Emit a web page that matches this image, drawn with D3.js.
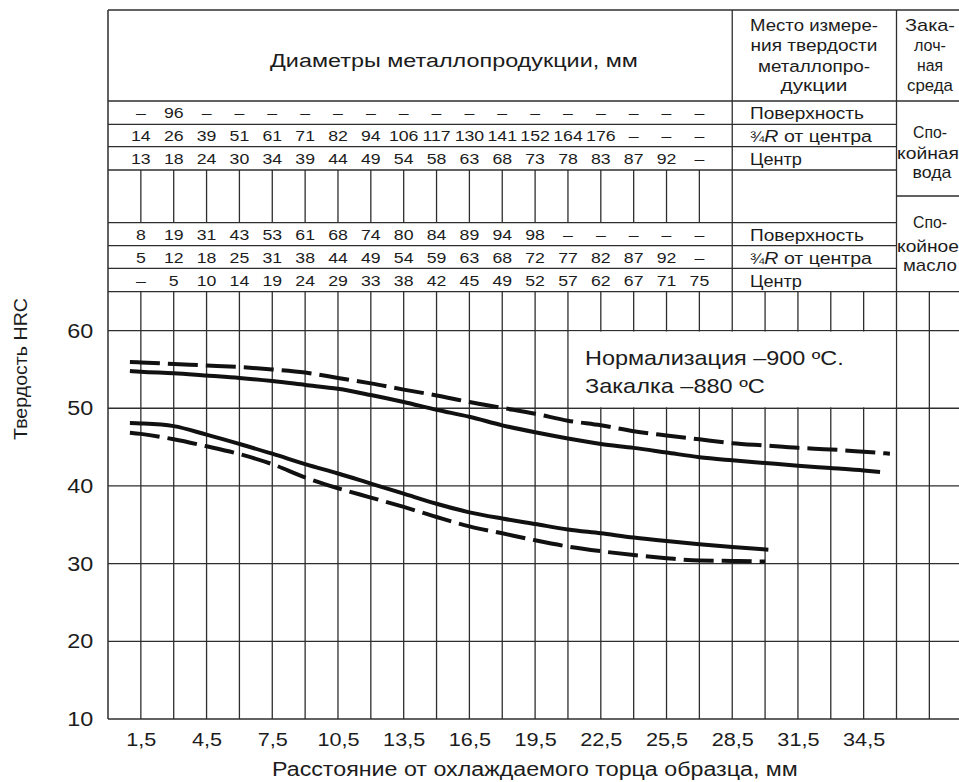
<!DOCTYPE html>
<html><head><meta charset="utf-8">
<script src="https://cdn.jsdelivr.net/npm/d3@7"></script>
<style>
body{margin:0;background:#fff}
text{font-family:"Liberation Sans",Arial,Helvetica,sans-serif;fill:#1c1c1c}
</style>
</head><body>
<svg id="c" width="959" height="782"></svg>
<script>
// ---------------- DATA ----------------
const columnDistances = [1.5,3,4.5,6,7.5,9,10.5,12,13.5,15,16.5,18,19.5,21,22.5,24,25.5,27];
const waterSurface = ["–","96","–","–","–","–","–","–","–","–","–","–","–","–","–","–","–","–"];
const waterThreeQuarter = ["14","26","39","51","61","71","82","94","106","117","130","141","152","164","176","–","–","–"];
const waterCenter = ["13","18","24","30","34","39","44","49","54","58","63","68","73","78","83","87","92","–"];
const oilSurface = ["8","19","31","43","53","61","68","74","80","84","89","94","98","–","–","–","–","–"];
const oilThreeQuarter = ["5","12","18","25","31","38","44","49","54","59","63","68","72","77","82","87","92","–"];
const oilCenter = ["–","5","10","14","19","24","29","33","38","42","45","49","52","57","62","67","71","75"];

const xTickValues = [1.5,4.5,7.5,10.5,13.5,16.5,19.5,22.5,25.5,28.5,31.5,34.5];
const xTickLabels = ["1,5","4,5","7,5","10,5","13,5","16,5","19,5","22,5","25,5","28,5","31,5","34,5"];
const yTickValues = [10,20,30,40,50,60];

// curves: [distance mm, HRC]
const upperDashed = [[1,55.95],[1.5,55.9],[3,55.7],[4.5,55.5],[6,55.3],[7.5,55.0],[9,54.6],[10.5,53.9],[12,53.2],[13.5,52.4],[15,51.65],[16.5,50.8],[18,50.05],[19.5,49.3],[21,48.4],[22.5,47.8],[24,47.05],[25.5,46.5],[27,46.0],[28.5,45.5],[30,45.2],[31.5,44.9],[33,44.7],[34.5,44.4],[35.7,44.15]];
const upperSolid = [[1,54.8],[1.5,54.7],[3,54.5],[4.5,54.2],[6,53.9],[7.5,53.5],[9,53.0],[10.5,52.5],[12,51.7],[13.5,50.8],[15,49.8],[16.5,48.9],[18,47.8],[19.5,46.9],[21,46.1],[22.5,45.4],[24,44.9],[25.5,44.3],[27,43.7],[28.5,43.3],[30,42.95],[31.5,42.6],[33,42.3],[34.5,42.0],[35.25,41.8]];
const lowerSolid = [[1,48.1],[1.5,48.05],[3,47.7],[4.5,46.6],[6,45.4],[7.5,44.15],[9,42.8],[10.5,41.6],[12,40.3],[13.5,39.0],[15,37.7],[16.5,36.6],[18,35.8],[19.5,35.1],[21,34.4],[22.5,33.9],[24,33.35],[25.5,32.9],[27,32.5],[28.5,32.15],[30.15,31.8]];
const lowerDashed = [[1,46.85],[1.5,46.7],[3,46.0],[4.5,45.1],[6,44.1],[7.5,42.8],[9,41.1],[10.5,39.7],[12,38.5],[13.5,37.3],[15,36.0],[16.5,34.8],[18,33.9],[19.5,33.0],[21,32.2],[22.5,31.6],[24,31.1],[25.5,30.7],[27,30.4],[28.5,30.35],[30,30.27]];

// ---------------- LAYOUT ----------------
const W = 959, H = 782;
const svg = d3.select("#c");
const x = d3.scaleLinear().domain([0,36]).range([108,896.5]);
const y = d3.scaleLinear().domain([10,65]).range([719,291.7]);
const L = x(0), R = W, T = 10, B = y(10);
const rows = [10,101,124.3,146.7,170,222.7,245.7,268.3,y(65)];
const gridColor = "#2e2e2e", gw = 1.3;

function hline(y0,x0,x1,w){svg.append("line").attr("x1",x0).attr("x2",x1).attr("y1",y0).attr("y2",y0).attr("stroke",gridColor).attr("stroke-width",w||gw);}
function vline(x0,y0,y1,w){svg.append("line").attr("x1",x0).attr("x2",x0).attr("y1",y0).attr("y2",y1).attr("stroke",gridColor).attr("stroke-width",w||gw);}

function label(o){
  const grp = svg.append("g");
  const t = grp.append("text").attr("text-anchor", o.anchor||"middle").style("font-size", o.size+"px");
  if (o.parts) o.parts.forEach(p => { const s=t.append("tspan").text(p.t); if(p.i) s.style("font-style","italic"); if(p.s) s.style("font-size",p.s+"px"); });
  else t.text(o.text);
  let sx = o.sx || 1.13;
  if (o.width) sx = o.width / t.node().getComputedTextLength();
  grp.attr("transform", `translate(${o.x},${o.y})${o.rot?` rotate(${o.rot})`:""} scale(${sx},1)`);
  return grp;
}

// ---------------- PLOT GRID ----------------
const vGrid = d3.range(1.5, 38.9, 1.5);
svg.append("g").selectAll("line").data(vGrid).join("line")
  .attr("x1",d=>x(d)).attr("x2",d=>x(d)).attr("y1",y(65)).attr("y2",y(10))
  .attr("stroke",gridColor).attr("stroke-width",gw);
svg.append("g").selectAll("line").data([20,30,40,50,60]).join("line")
  .attr("x1",L).attr("x2",R).attr("y1",d=>y(d)).attr("y2",d=>y(d))
  .attr("stroke",gridColor).attr("stroke-width",gw);

// white box for annotation
svg.append("rect").attr("x",x(21)+1).attr("y",y(60)+1)
  .attr("width",x(36)-x(21)-2).attr("height",y(50)-y(60)-2).attr("fill","#fff");

// ---------------- TABLE ----------------
hline(T, L, R);
hline(rows[1], L, R);
[rows[2],rows[3],rows[4],rows[5],rows[6],rows[7]].forEach(r=>hline(r, L, x(36)));
hline(rows[8], L, R);
hline(196, x(36), R);
vline(x(28.5), T, rows[8]);
vline(x(36), T, rows[8]);
svg.append("g").selectAll("line").data(columnDistances).join("line")
  .attr("x1",d=>x(d)).attr("x2",d=>x(d)).attr("y1",rows[4]).attr("y2",rows[5])
  .attr("stroke",gridColor).attr("stroke-width",gw);

// axes lines
vline(L, T, B, 1.5);
hline(B, L, R, 1.6);

// table numbers
const tableRows = [
  [waterSurface, rows[1], rows[2]],
  [waterThreeQuarter, rows[2], rows[3]],
  [waterCenter, rows[3], rows[4]],
  [oilSurface, rows[5], rows[6]],
  [oilThreeQuarter, rows[6], rows[7]],
  [oilCenter, rows[7], rows[8]]
];
tableRows.forEach(([vals, r0, r1]) => {
  const yy = (r0+r1)/2 + 5.8;
  vals.forEach((v,i) => label({x:x(columnDistances[i]), y:yy, text:v, size:15, sx:1.18}));
});

// header texts
label({x:270, y:67, text:"Диаметры металлопродукции, мм", size:19, anchor:"start", width:368});
[["Место измере-",31,128],["ния твердости",51,127],["металлопро-",72,112],["дукции",91,67]]
  .forEach(([t,b,w])=>label({x:814, y:b, text:t, size:17, width:w}));
[["Зака-",31,50],["лоч-",51,32],["ная",71,26],["среда",91,46]]
  .forEach(([t,b,w])=>label({x:930, y:b, text:t, size:17, width:w}));

// measurement place labels
function placeLabels(r0){
  label({x:750, y:(rows[r0]+rows[r0+1])/2+6.5, text:"Поверхность", size:17, anchor:"start", width:114});
  label({x:750, y:(rows[r0+1]+rows[r0+2])/2+6.5, parts:[{t:"¾",s:15},{t:"R",i:true},{t:" от центра"}], size:17, anchor:"start", width:122});
  label({x:750, y:(rows[r0+2]+rows[r0+3])/2+6.5, text:"Центр", size:17, anchor:"start", width:52});
}
placeLabels(1);
placeLabels(5);

// quench media
[["Спо-",138,34,930],["койная",158.5,62,928],["вода",177.5,39,932],
 ["Спо-",228,34,930],["койное",251.5,62,928],["масло",271,54,930]]
  .forEach(([t,b,w,cx])=>label({x:cx, y:b, text:t, size:16, width:w}));

// ---------------- AXES LABELS ----------------
const xAxis = d3.axisBottom(x).tickValues(xTickValues).tickFormat((d,i)=>xTickLabels[i]).tickSize(0).tickPadding(14);
const gx = svg.append("g").attr("transform",`translate(0,${B})`).call(xAxis);
gx.select(".domain").remove();
gx.selectAll("text").attr("fill","#1c1c1c").style("font-size","19px")
  .style("font-family",'"Liberation Sans",Arial,sans-serif').attr("transform","scale(1.14,1)")
  .attr("x",0);

const yAxis = d3.axisLeft(y).tickValues(yTickValues).tickSize(0).tickPadding(13);
const gy = svg.append("g").attr("transform",`translate(${L},0)`).call(yAxis);
gy.select(".domain").remove();
gy.selectAll("text").attr("fill","#1c1c1c").style("font-size","20.5px")
  .style("font-family",'"Liberation Sans",Arial,sans-serif').attr("transform","scale(1.14,1)");

label({x:272, y:776, text:"Расстояние от охлаждаемого торца образца, мм", size:20, anchor:"start", width:526});
label({x:27, y:369, text:"Твердость HRC", size:19, rot:-90, width:142});

// annotation
label({x:585, y:365, text:"Нормализация –900 ºС.", size:20, anchor:"start", width:259});
label({x:585, y:393, text:"Закалка –880 ºС", size:20, anchor:"start", width:180});

// ---------------- CURVES ----------------
const line = d3.line().x(d=>x(d[0])).y(d=>y(d[1])).curve(d3.curveMonotoneX);
[[upperDashed,true],[upperSolid,false],[lowerSolid,false],[lowerDashed,true]].forEach(([data,dashed])=>{
  svg.append("path").datum(data).attr("d",line).attr("fill","none")
    .attr("stroke","#111").attr("stroke-width",4)
    .attr("stroke-dasharray", dashed ? "30,8" : null);
});
</script>
</body></html>
